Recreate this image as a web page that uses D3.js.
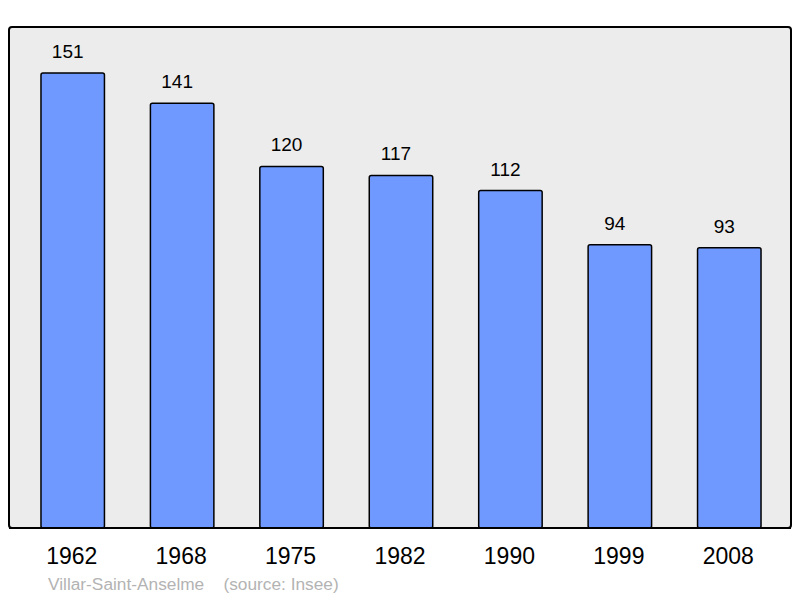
<!DOCTYPE html>
<html>
<head>
<meta charset="utf-8">
<script src="https://cdn.jsdelivr.net/npm/d3@7"></script>
<style>
  body { margin: 0; background: #fff; }
  text { font-family: "Liberation Sans", Arial, sans-serif; }
</style>
</head>
<body>
<div id="chart-container"></div>
<script>
// Population data
const years = ["1962", "1968", "1975", "1982", "1990", "1999", "2008"];
const population = [151, 141, 120, 117, 112, 94, 93];
const commune = "Villar-Saint-Anselme";
const source = "(source: Insee)";

const width = 800;
const height = 598;

const svg = d3.select("#chart-container")
    .append("svg")
    .attr("width", width)
    .attr("height", height);

// Panel
svg.append("rect")
    .attr("x", 9)
    .attr("y", 27)
    .attr("width", 782)
    .attr("height", 501)
    .attr("rx", 3)
    .attr("fill", "#ececec")
    .attr("stroke", "#000")
    .attr("stroke-width", 2);

const xScale = d3.scaleBand()
    .domain(years)
    .range([18, 784])
    .paddingInner(0.42)
    .paddingOuter(0.21);

const yScale = d3.scaleLinear()
    .domain([0, 151])
    .range([528, 73]);

// Bars
svg.selectAll(".bar")
    .data(population)
    .enter()
    .append("rect")
    .attr("class", "bar")
    .attr("x", (d, i) => xScale(years[i]))
    .attr("y", d => yScale(d))
    .attr("width", xScale.bandwidth())
    .attr("height", d => yScale(0) - yScale(d))
    .attr("rx", 2)
    .attr("fill", "#7099ff")
    .attr("stroke", "#000")
    .attr("stroke-width", 1.5);

// Value labels
svg.selectAll(".value")
    .data(population)
    .enter()
    .append("text")
    .attr("class", "value")
    .attr("x", (d, i) => xScale(years[i]) + xScale.bandwidth() / 2 - 5)
    .attr("y", d => yScale(d) - 15)
    .attr("text-anchor", "middle")
    .attr("font-size", 19)
    .attr("fill", "#000")
    .text(d => d);

// Redraw bottom edge of panel over the bars
svg.append("line")
    .attr("x1", 9).attr("x2", 791)
    .attr("y1", 528).attr("y2", 528)
    .attr("stroke", "#000")
    .attr("stroke-width", 2);

// Year labels
svg.selectAll(".year")
    .data(years)
    .enter()
    .append("text")
    .attr("class", "year")
    .attr("x", d => xScale(d) + xScale.bandwidth() / 2 - 1)
    .attr("y", 564)
    .attr("text-anchor", "middle")
    .attr("font-size", 23)
    .attr("fill", "#000")
    .text(d => d);

// Footer
svg.append("text")
    .attr("x", 48)
    .attr("y", 590)
    .attr("font-size", 17.3)
    .attr("fill", "#b3b3b3")
    .attr("xml:space", "preserve")
    .text(commune + "    " + source);
</script>
</body>
</html>
